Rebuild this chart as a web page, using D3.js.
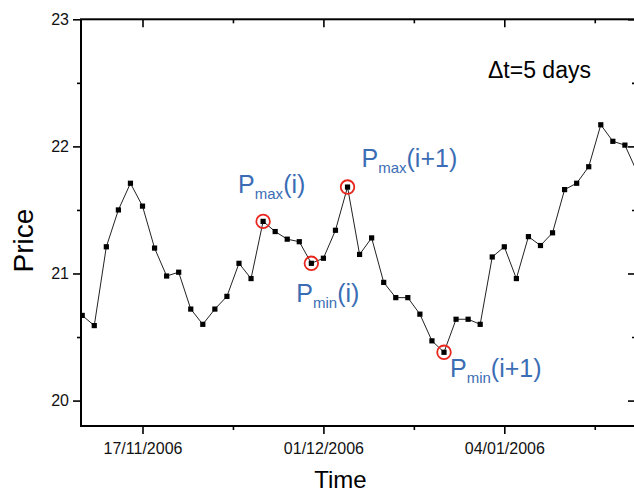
<!DOCTYPE html>
<html><head><meta charset="utf-8">
<script src="https://cdn.jsdelivr.net/npm/d3@7"></script>
<style>body{margin:0;background:#fff}svg{display:block}text{font-family:"Liberation Sans",Arial,sans-serif}</style>
</head><body><svg id="c" width="634" height="494"></svg>
<script>
// ---- data ----
const prices = [20.67,20.59,21.21,21.50,21.71,21.53,21.20,20.98,21.01,20.72,
  20.60,20.72,20.82,21.08,20.96,21.41,21.33,21.27,21.25,21.08,
  21.12,21.34,21.68,21.15,21.28,20.93,20.81,20.81,20.68,20.47,
  20.38,20.64,20.64,20.60,21.13,21.21,20.96,21.29,21.22,21.32,
  21.66,21.71,21.84,22.17,22.04,22.01,21.80];
const dateTickIndex = [5, 20, 35];
const dateTickLabels = ["17/11/2006", "01/12/2006", "04/01/2006"];
const minorDateTicks = [12.5, 27.5, 42.5];
const priceTicks = [20, 21, 22, 23];
const minorPriceTicks = [20.5, 21.5, 22.5];
const extremaIndex = [15, 19, 22, 30];
const extremaSub = ["max", "min", "max", "min"];
const extremaArg = ["(i)", "(i)", "(i+1)", "(i+1)"];
const noteText = "\u0394t=5 days";

// ---- layout ----
const L = 81, R = 636, T = 19.3, B = 426;
const labelOffsets = [[-25, -28], [-15, 39], [14, -20], [6, 25]];
const blue = "#3b6db5", red = "#e8261e";

const svg = d3.select("#c");
const x = d3.scaleLinear().domain([-0.1, 45.92]).range([L, R]);
const y = d3.scaleLinear().domain([19.8, 23]).range([B, T]);

svg.append("defs").append("clipPath").attr("id", "clip")
  .append("rect").attr("x", L).attr("y", T).attr("width", R - L).attr("height", B - T);

function styleAxis(g) {
  g.select(".domain").remove();
  g.selectAll("line").attr("stroke", "#000").attr("stroke-width", 1.6);
  g.selectAll("text").attr("fill", "#111").style("font-size", "16px");
}

// bottom major
svg.append("g").attr("transform", `translate(0,${B})`)
  .call(d3.axisBottom(x).tickValues(dateTickIndex).tickFormat((d, i) => dateTickLabels[i]).tickSize(8).tickPadding(9))
  .call(styleAxis);
// bottom minor
svg.append("g").attr("transform", `translate(0,${B})`)
  .call(d3.axisBottom(x).tickValues(minorDateTicks).tickFormat("").tickSize(4))
  .call(styleAxis);
// top
svg.append("g").attr("transform", `translate(0,${T})`)
  .call(d3.axisTop(x).tickValues(dateTickIndex).tickFormat("").tickSize(-8))
  .call(styleAxis);
svg.append("g").attr("transform", `translate(0,${T})`)
  .call(d3.axisTop(x).tickValues(minorDateTicks).tickFormat("").tickSize(-4))
  .call(styleAxis);
// left
svg.append("g").attr("transform", `translate(${L},0)`)
  .call(d3.axisLeft(y).tickValues(priceTicks).tickFormat(d3.format("d")).tickSize(8).tickPadding(4))
  .call(styleAxis);
svg.append("g").attr("transform", `translate(${L},0)`)
  .call(d3.axisLeft(y).tickValues(minorPriceTicks).tickFormat("").tickSize(4))
  .call(styleAxis);
// right
svg.append("g").attr("transform", `translate(${R},0)`)
  .call(d3.axisRight(y).tickValues(priceTicks).tickFormat("").tickSize(-8))
  .call(styleAxis);
svg.append("g").attr("transform", `translate(${R},0)`)
  .call(d3.axisRight(y).tickValues(minorPriceTicks).tickFormat("").tickSize(-4))
  .call(styleAxis);

// frame
svg.append("rect").attr("x", L).attr("y", T).attr("width", R - L).attr("height", B - T)
  .attr("fill", "none").attr("stroke", "#000").attr("stroke-width", 2);

// series
const plot = svg.append("g").attr("clip-path", "url(#clip)");
plot.append("path").datum(prices)
  .attr("fill", "none").attr("stroke", "#222").attr("stroke-width", 1)
  .attr("d", d3.line().x((d, i) => x(i)).y(d => y(d)));
plot.selectAll("rect.m").data(prices).join("rect").attr("class", "m")
  .attr("x", (d, i) => x(i) - 2.6).attr("y", d => y(d) - 2.6)
  .attr("width", 5.2).attr("height", 5.2).attr("fill", "#000");

// extrema circles
svg.selectAll("circle.ex").data(extremaIndex).join("circle").attr("class", "ex")
  .attr("cx", d => x(d)).attr("cy", d => y(prices[d])).attr("r", 6.8)
  .attr("fill", "none").attr("stroke", red).attr("stroke-width", 1.8);

// extrema labels
extremaIndex.forEach((idx, k) => {
  const t = svg.append("text")
    .attr("x", x(idx) + labelOffsets[k][0]).attr("y", y(prices[idx]) + labelOffsets[k][1])
    .attr("fill", blue).style("font-size", "25px");
  t.append("tspan").text("P");
  t.append("tspan").attr("dy", 6).style("font-size", "15px").text(extremaSub[k]);
  t.append("tspan").attr("dy", -6).text(extremaArg[k]);
});

// note
svg.append("text").attr("x", 488).attr("y", 78).attr("fill", "#000")
  .style("font-size", "23px").text(noteText);

// axis titles
svg.append("text").attr("x", (L + R) / 2 - 18).attr("y", 488).attr("text-anchor", "middle")
  .attr("fill", "#000").style("font-size", "24px").text("Time");
svg.append("text").attr("transform", `translate(33,${(T + B) / 2 + 18}) rotate(-90)`)
  .attr("text-anchor", "middle").attr("fill", "#000").style("font-size", "28px").text("Price");
</script></body></html>
